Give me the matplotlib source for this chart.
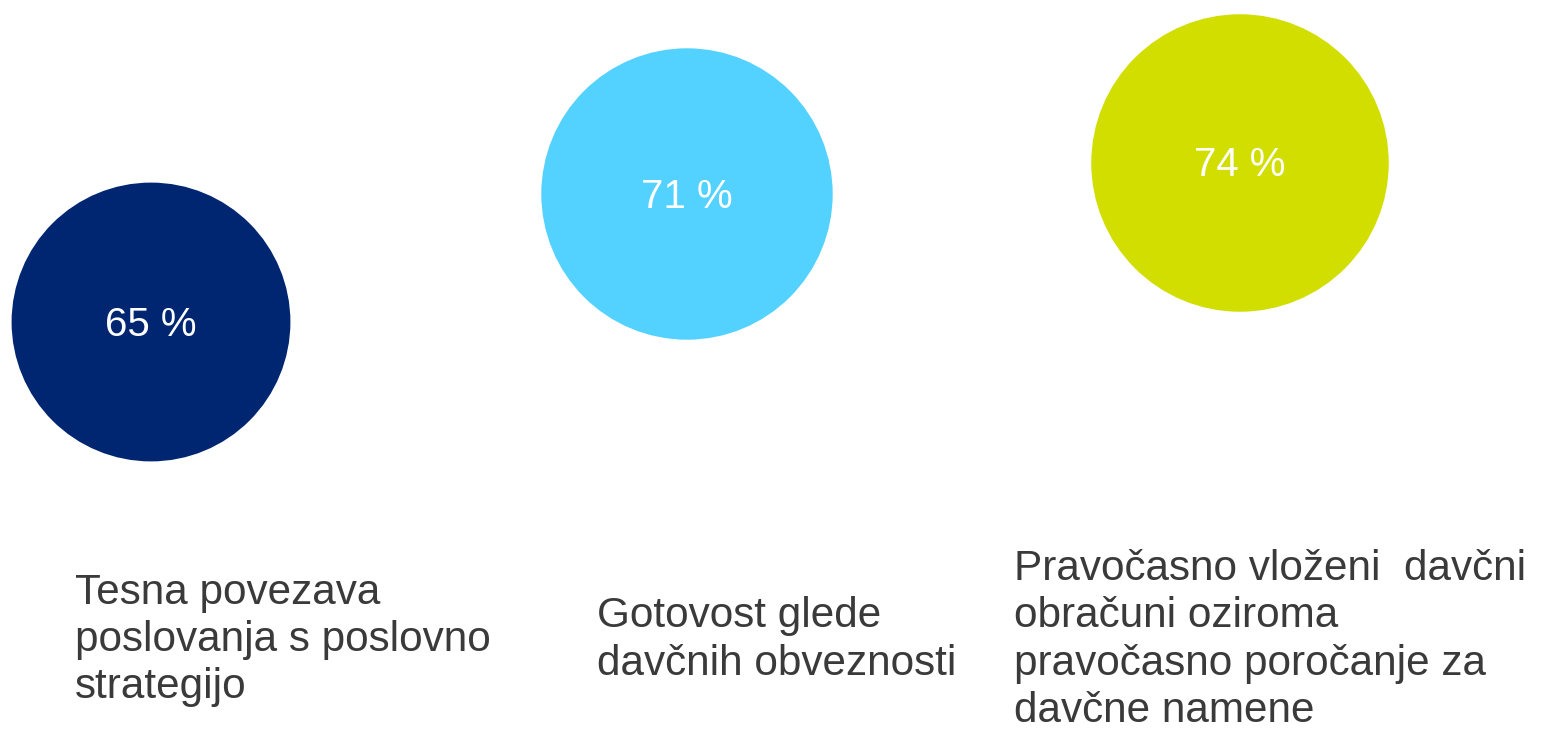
import matplotlib
matplotlib.use("Agg")
import matplotlib.pyplot as plt

plt.rcParams['font.family'] = ['Liberation Sans', 'DejaVu Sans']

# data
values = [65, 71, 74]
value_labels = ['65 %', '71 %', '74 %']
bubble_x = [151, 687, 1240]
bubble_y = [322, 194, 163]
colors = ['#002672', '#53D2FF', '#D2DE00']
labels = [
    'Tesna povezava\nposlovanja s poslovno\nstrategijo',
    'Gotovost glede\ndavčnih obveznosti',
    'Pravočasno vloženi  davčni\nobračuni oziroma\npravočasno poročanje za\ndavčne namene',
]
label_x = [75, 597, 1014]
label_y = 640

fig = plt.figure(figsize=(15.43, 7.36), dpi=100)
ax = fig.add_axes([0, 0, 1, 1])
ax.set_xlim(0, 1543)
ax.set_ylim(736, 0)
ax.axis('off')

# bubble area proportional to value
sizes = [v * 620 for v in values]
ax.scatter(bubble_x, bubble_y, s=sizes, c=colors, edgecolors='none')

for x, y, t in zip(bubble_x, bubble_y, value_labels):
    ax.text(x, y + 2.5, t, ha='center', va='center', color='white', fontsize=29)

for x, t in zip(label_x, labels):
    ax.text(x, label_y, t, ha='left', va='center', color='#3a3a3a',
            fontsize=30.4, linespacing=1.24)

fig.savefig('out.png', dpi=100)
